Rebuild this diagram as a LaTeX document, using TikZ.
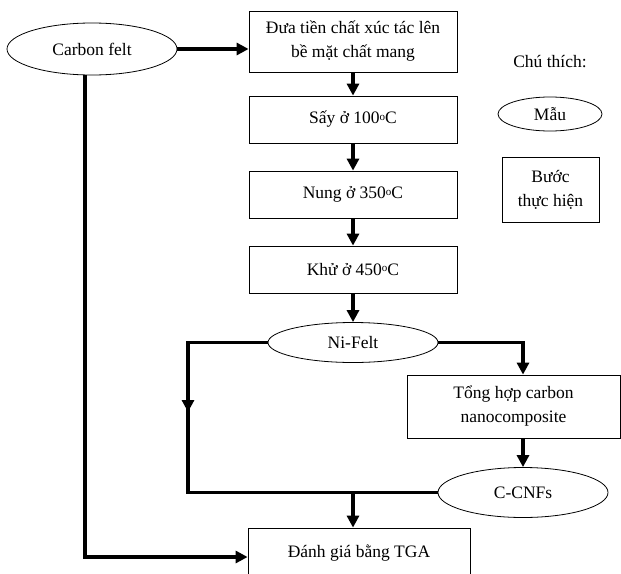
\documentclass[tikz,border=0pt]{standalone}
\usepackage{fontspec}
\setmainfont{Liberation Serif}
\usetikzlibrary{arrows.meta,shapes.geometric}
\newcommand{\dego}{\raisebox{3.5pt}{\fontsize{11}{11}\selectfont o}}
\begin{document}
\begin{tikzpicture}[x=1pt,y=-1pt,
  every node/.style={font=\fontsize{17.5}{24}\selectfont, inner sep=0pt, align=center},
  stepbox/.style={draw, line width=0.8pt, rectangle, minimum width=208pt},
  sample/.style={draw, line width=0.8pt, ellipse, minimum width=170pt},
  link/.style={line width=3.5pt},
  arr/.style={line width=3.5pt, -{Triangle[length=12pt,width=12pt]}}
]
\useasboundingbox (0,0) rectangle (621,573);
\clip (0,0) rectangle (621,573);
\node[sample, minimum height=52pt] (cf) at (92,49) {Carbon felt};
\node[stepbox, minimum height=61pt] (b1) at (353,41.5) {Đưa tiền chất xúc tác lên\\bề mặt chất mang};
\node[stepbox, minimum height=47pt] (b2) at (353,119.5) {Sấy ở 100\dego C};
\node[stepbox, minimum height=47pt] (b3) at (353,194.5) {Nung ở 350\dego C};
\node[stepbox, minimum height=47pt] (b4) at (353,269.5) {Khử ở 450\dego C};
\node[sample, minimum height=40pt] (ni) at (353,342.5) {Ni-Felt};
\node[stepbox, minimum width=213pt, minimum height=63pt] (th) at (513.5,406.5) {Tổng hợp carbon\\nanocomposite};
\node[sample, minimum height=50pt] (cc) at (523,492.5) {C-CNFs};
\node[stepbox, minimum width=222pt, minimum height=64pt] (tga) at (359,560) {};
\node (tgat) at (359,553) {Đánh giá bằng TGA};
% legend
\node (leg) at (550,62) {Chú thích:};
\node[sample, minimum width=104pt, minimum height=34pt] (mau) at (550,114) {Mẫu};
\node[stepbox, minimum width=97pt, minimum height=65pt] (buoc) at (550.5,189.5) {Bước\\thực hiện};
% coordinates
\coordinate (c1) at (85,557);
\coordinate (l1) at (188,342.5);
\coordinate (lm) at (188,412);
\coordinate (l2) at (188,492.5);
\coordinate (m2) at (353,492.5);
\coordinate (r1) at (523,342.5);
% connectors
\draw[arr] (cf.east) -- (cf.east -| b1.west);
\draw[arr] (cf.south -| c1) -- (c1) -- (c1 -| tga.west);
\draw[arr] (b1) -- (b2);
\draw[arr] (b2) -- (b3);
\draw[arr] (b3) -- (b4);
\draw[arr] (b4) -- (ni);
\draw[arr] (ni.east) -- (r1) -- (r1 |- th.north);
\draw[arr] (r1 |- th.south) -- (cc.north);
\draw[link] (ni.west) -- (l1) -- (l2) -- (cc.west);
\draw[arr] (l1) -- (lm);
\draw[arr] (m2) -- (m2 |- tga.north);
\end{tikzpicture}
\end{document}
